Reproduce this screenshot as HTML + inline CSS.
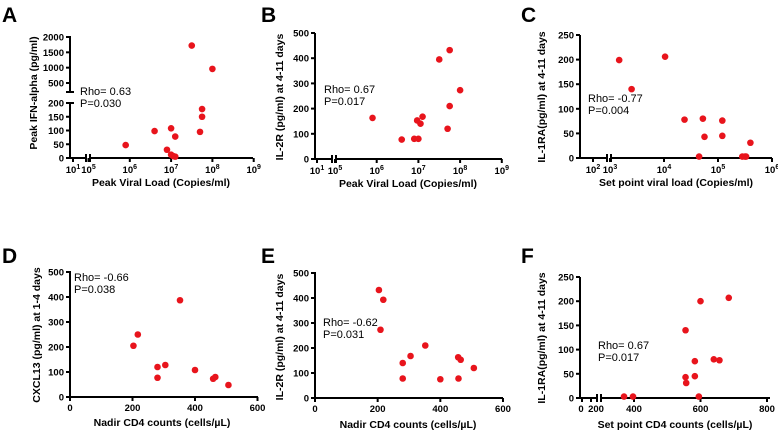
<!DOCTYPE html>
<html><head><meta charset="utf-8"><style>
body{margin:0;background:#fff;width:778px;height:431px;overflow:hidden}
svg{display:block;font-family:"Liberation Sans",Arial,sans-serif}
.tk{font-size:9.5px;font-weight:bold}
.tt{font-size:10.5px;font-weight:bold}
.st{font-size:11px}
.pl{font-size:21px;font-weight:bold}
</style></head><body>
<svg id="fig" width="778" height="431" viewBox="0 0 778 431"></svg>
<script>
// Panel A: log10 peak viral load vs IFN-alpha
const aX=[5.9,6.6,6.9,7.0,7.0,7.05,7.1,7.1,7.5,7.7,7.75,7.75,8.0];
const aY=[47,98,30,108,12,7,5,78,1720,95,178,150,960];
// Panel B
const bX=[5.9,6.6,6.9,6.97,7.0,7.05,7.1,7.5,7.7,7.75,7.75,8.0];
const bY=[163,77,80,153,80,140,168,395,120,432,210,273];
// Panel C
const cX=[3.17,3.4,4.02,4.38,4.65,4.72,4.75,5.08,5.08,5.45,5.5,5.52,5.6];
const cY=[199,140,206,78,3,80,43,76,45,3,3,3,31];
// Panel D
const dX=[203,217,280,280,305,352,400,458,465,507];
const dY=[205,250,120,77,128,387,108,73,80,48];
// Panel E
const eX=[204,218,209,280,280,305,352,400,457,465,458,507];
const eY=[432,393,273,140,78,168,210,75,163,153,78,120];
// Panel F
const fX=[370,397,555,555,557,583,583,595,600,640,657,685];
const fY=[3,3,140,43,31,76,45,3,200,80,78,207];
const logTicks=[1,5,6,7,8,9];
const logTicksC=[2,3,4,5,6];
const linTicks=[0,200,400,600];
const linTicksF=[0,200,400,600,800];
const yTicks500=[0,100,200,300,400,500];
const yTicks250=[0,50,100,150,200,250];

const svg=document.getElementById('fig');
const NS='http://www.w3.org/2000/svg';
function el(tag,at,parent){const e=document.createElementNS(NS,tag);for(const k in at)e.setAttribute(k,at[k]);(parent||svg).appendChild(e);return e;}
function txt(s,at,cls,parent){const t=el('text',at,parent);t.setAttribute('class',cls);t.textContent=s;return t;}
function sup(base,exp,x,y,g){const t=el('text',{x:x,y:y,'text-anchor':'middle'},g);t.setAttribute('class','tk');t.appendChild(document.createTextNode(base));const s=document.createElementNS(NS,'tspan');s.setAttribute('dy','-4');s.setAttribute('font-size','7');s.textContent=exp;t.appendChild(s);return t;}

function panel(p){
  const g=el('g',{});
  
  
  const L=txt(p.id,{x:p.lx,y:p.ly},'pl',g);
  
  // axes
  const ax=el('g',{stroke:'#000','stroke-width':2,fill:'none'},g);
  
  p.yAxisSegs.forEach(s=>el('line',{x1:p.ax,y1:s[0],x2:p.ax,y2:s[1]},ax));
  p.xAxisSegs.forEach(s=>el('line',{x1:s[0],y1:p.ay,x2:s[1],y2:p.ay},ax));
  (p.breakX||[]).forEach(bx=>{el('line',{x1:bx,y1:p.ay-4,x2:bx,y2:p.ay+4},ax);});
  (p.breakY||[]).forEach(by=>{el('line',{x1:p.ax-4,y1:by,x2:p.ax+4,y2:by},ax);});
  // y ticks
  p.yt.forEach(v=>{const y=p.sy(v);el('line',{x1:p.ax-4,y1:y,x2:p.ax,y2:y},ax);
    const t=txt(String(v),{x:p.ax-6,y:y+3.5,'text-anchor':'end'},'tk',g);
    });
  // x ticks
  p.xt.forEach(v=>{const x=p.sx(v);el('line',{x1:x,y1:p.ay,x2:x,y2:p.ay+4},ax);
    let t; if(p.log){t=sup('10',String(v),x,p.ay+15,g);} else {t=txt(String(v),{x:x+(p.xoff?p.xoff(v):0),y:p.ay+14,'text-anchor':'middle'},'tk',g);}
    });
  // titles
  const xt=txt(p.xtitle,{x:p.xtx,y:p.xty,'text-anchor':'middle'},'tt',g);
  
  const yt=txt(p.ytitle,{x:0,y:0,'text-anchor':'middle',transform:'translate('+p.ytx+','+p.yty+') rotate(-90)'},'tt',g);
  
  // stats
  const s1=txt(p.rho,{x:p.rx,y:p.ry},'st',g);
  
  const s2=txt(p.pv,{x:p.rx,y:p.ry+12},'st',g);
  
  // points
  for(let i=0;i<p.X.length;i++){
    const c=el('circle',{cx:p.sx(p.X[i]),cy:p.sy(p.Y[i]),r:3.3,fill:'#e8141c'},g);
    
    
  }
}
function logX(x0,base,d,lowTick,lowPos){return v=>v===lowTick?lowPos:x0+(v-base)*d;}

panel({id:'A',lx:2,ly:22,ax:70,ay:158,log:true,X:aX,Y:aY,xt:logTicks,
  sx:logX(88.5,5,41.3,1,73),
  sy:v=>v<=200?158-v*55/200:83-(v-500)*46/1500,
  yt:[0,50,100,150,200,500,1000,1500,2000],
  yAxisSegs:[[36,92],[103,159]],breakY:[92,103],xAxisSegs:[[69,86],[90,253]],breakX:[86,90],
  xtitle:'Peak Viral Load (Copies/ml)',xtx:161,xty:186,ytitle:'Peak IFN-alpha (pg/ml)',ytx:37,yty:93,
  rho:'Rho= 0.63',pv:'P=0.030',rx:80,ry:95});
panel({id:'B',lx:261,ly:22,ax:315,ay:159,log:true,X:bX,Y:bY,xt:logTicks,
  sx:logX(335,5,41.7,1,317),sy:v=>159-v*126/500,yt:yTicks500,
  yAxisSegs:[[33,160]],xAxisSegs:[[314,332],[336,502]],breakX:[332,336],
  xtitle:'Peak Viral Load (Copies/ml)',xtx:408,xty:187,ytitle:'IL-2R (pg/ml) at 4-11 days',ytx:283,yty:97,
  rho:'Rho= 0.67',pv:'P=0.017',rx:324,ry:93});
panel({id:'C',lx:521,ly:22,ax:580,ay:158,log:true,X:cX,Y:cY,xt:logTicksC,
  sx:logX(610,3,54,2,593),sy:v=>158-v*123/250,yt:yTicks250,
  yAxisSegs:[[35,159]],xAxisSegs:[[579,607],[611,772]],breakX:[607,611],
  xtitle:'Set point viral load (Copies/ml)',xtx:676,xty:186,ytitle:'IL-1RA(pg/ml) at 4-11 days',ytx:545,yty:97,
  rho:'Rho= -0.77',pv:'P=0.004',rx:588,ry:102});
panel({id:'D',lx:2,ly:263,ax:70,ay:397,log:false,X:dX,Y:dY,xt:linTicks,
  sx:v=>70+v*0.3125,sy:v=>397-v*125/500,yt:yTicks500,
  yAxisSegs:[[271,398]],xAxisSegs:[[69,258]],
  xtitle:'Nadir CD4 counts (cells/\u00b5L)',xtx:162,xty:426,ytitle:'CXCL13 (pg/ml) at  1-4 days',ytx:40,yty:335,
  rho:'Rho=  -0.66',pv:'P=0.038',rx:74,ry:281});
panel({id:'E',lx:261,ly:263,ax:315,ay:398,log:false,X:eX,Y:eY,xt:linTicks,
  sx:v=>315+v*0.3133,sy:v=>398-v*125/500,yt:yTicks500,
  yAxisSegs:[[272,399]],xAxisSegs:[[314,503]],
  xtitle:'Nadir CD4 counts (cells/\u00b5L)',xtx:408,xty:428,ytitle:'IL-2R (pg/ml) at 4-11 days',ytx:283,yty:337,
  rho:'Rho= -0.62',pv:'P=0.031',rx:323,ry:326});
panel({id:'F',lx:521,ly:263,ax:580,ay:398,log:false,X:fX,Y:fY,xt:linTicksF,
  sx:v=>v<=200?582+v*0.045:634+(v-400)*0.3325,xoff:v=>v===0?-1:(v===200?5:0),
  sy:v=>398-v*121/250,yt:yTicks250,
  yAxisSegs:[[277,399]],xAxisSegs:[[579,597],[601,770]],breakX:[597,601],
  xtitle:'Set point CD4 counts (cells/\u00b5L)',xtx:675,xty:428,ytitle:'IL-1RA(pg/ml) at 4-11 days',ytx:545,yty:338,
  rho:'Rho= 0.67',pv:'P=0.017',rx:598,ry:349});
</script>
</body></html>
